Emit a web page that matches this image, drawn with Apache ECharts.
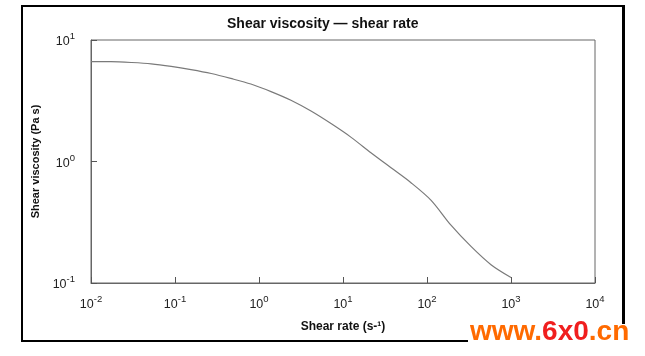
<!DOCTYPE html>
<html>
<head>
<meta charset="utf-8">
<script src="https://cdn.jsdelivr.net/npm/echarts@6/dist/echarts.min.js"></script>
<style>html,body{margin:0;padding:0;background:#fff;}#c{width:645px;height:356px;}</style>
</head>
<body>
<div id="c"></div>
<script>
// Data (log-log)
var shearRate = [0.01, 0.0173, 0.03, 0.052, 0.09, 0.155, 0.27, 0.46, 0.8, 1.39, 2.4, 4.16, 7.2, 12.5, 21.5, 37.3, 64.5, 112, 193, 334, 578, 1000];
var viscosity = [6.64, 6.63, 6.53, 6.37, 6.07, 5.71, 5.30, 4.83, 4.34, 3.76, 3.19, 2.60, 2.05, 1.58, 1.18, 0.888, 0.669, 0.479, 0.299, 0.200, 0.1415, 0.111];
var xMin = 0.01, xMax = 10000;
var yMin = 0.1, yMax = 10;

var font = '"Liberation Sans", Arial, sans-serif';
function supLabel(v) {
  var e = Math.round(Math.log10(v));
  return '{b|10}{s|' + e + '}';
}
var rich = {
  b: { fontSize: 12.5, color: '#222', fontFamily: font, lineHeight: 17, verticalAlign: 'bottom' },
  s: { fontSize: 9.5, color: '#222', fontFamily: font, lineHeight: 17, verticalAlign: 'top' }
};

var chart = echarts.init(document.getElementById('c'), null, { renderer: 'canvas' });
chart.setOption({
  backgroundColor: '#fff',
  animation: false,
  title: {
    text: 'Shear viscosity \u2014 shear rate',
    left: 222, top: 12,
    textStyle: { fontFamily: font, fontSize: 14, fontWeight: 'bold', color: '#111' }
  },
  grid: { left: 91, right: 50, top: 40, bottom: 73, show: true, borderColor: '#666', borderWidth: 1, backgroundColor: 'transparent' },
  xAxis: {
    type: 'log', logBase: 10, min: xMin, max: xMax,
    name: 'Shear rate (s-\u00b9)', nameLocation: 'middle', nameGap: 38,
    nameTextStyle: { fontFamily: font, fontSize: 12, fontWeight: 'bold', color: '#111' },
    axisLine: { lineStyle: { color: '#666', width: 1 } },
    axisTick: { inside: true, length: 6, lineStyle: { color: '#555' } },
    minorTick: { show: false },
    splitLine: { show: false },
    axisLabel: { formatter: supLabel, rich: rich, margin: 11 }
  },
  yAxis: {
    type: 'log', logBase: 10, min: yMin, max: yMax,
    name: 'Shear viscosity (Pa s)', nameLocation: 'middle', nameGap: 42,
    nameTextStyle: { fontFamily: font, fontSize: 11, fontWeight: 'bold', color: '#111' },
    axisLine: { lineStyle: { color: '#666', width: 1 } },
    axisTick: { inside: true, length: 6, lineStyle: { color: '#555' } },
    splitLine: { show: false },
    axisLabel: { formatter: supLabel, rich: rich, margin: 16 }
  },
  series: [{
    type: 'line',
    data: shearRate.map(function (x, i) { return [x, viscosity[i]]; }),
    smooth: 0.3,
    showSymbol: false,
    lineStyle: { color: '#7a7a7a', width: 1.2 }
  }],
  graphic: [
    { type: 'rect', shape: { x: 22, y: 6, width: 602, height: 335 }, style: { fill: 'none', stroke: '#000', lineWidth: 2 }, z: 10 },
    { type: 'rect', shape: { x: 622, y: 6, width: 2.5, height: 336 }, style: { fill: '#000' }, z: 10 },
    { type: 'rect', shape: { x: 468, y: 324, width: 177, height: 32 }, style: { fill: '#fff' }, z: 11 },
    { type: 'text', left: 470, top: 318, z: 12,
      style: {
        text: '{o|www.}{r|6x0}{o|.cn}',
        rich: {
          o: { fill: '#ff6a00', fontFamily: font, fontWeight: 'bold', fontSize: 28 },
          r: { fill: '#f01e1e', fontFamily: font, fontWeight: 'bold', fontSize: 28 }
        }
      } }
  ]
});
</script>
</body>
</html>
